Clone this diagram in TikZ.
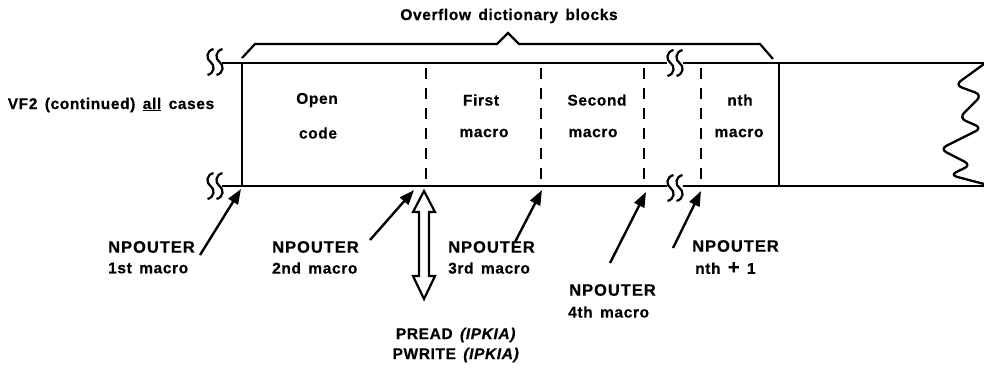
\documentclass[tikz,border=0pt]{standalone}
\usepackage{fontspec}
\setmainfont{Liberation Sans}[LetterSpace=4, WordSpace=1.5, BoldFeatures={FakeBold=0.5}, BoldItalicFeatures={FakeBold=0.5}]
\newfontfamily\npfont{Liberation Sans}[LetterSpace=6, WordSpace=1.5, BoldFeatures={FakeBold=0.5}]
\usetikzlibrary{arrows.meta}
\tikzset{
  boxline/.style={line width=2.3pt},
  divline/.style={line width=2pt, dash pattern=on 11pt off 9pt},
  ptr/.style={line width=2.4pt, -{Triangle[length=15pt,width=11pt]}},
  lbl/.style={font=\fontsize{15.5}{17}\selectfont\bfseries, inner sep=0pt},
  nplbl/.style={font=\npfont\fontsize{16.5}{18}\selectfont\bfseries, inner sep=0pt, anchor=west},
  sub/.style={font=\fontsize{15.5}{17}\selectfont\bfseries, inner sep=0pt, anchor=west},
  brk/.pic={
    \foreach \dx in {-4.5,4.5}{
      \draw[line width=2.2pt] ([xshift=\dx pt]3,-13) .. controls ([xshift=\dx pt]-4.5,-11) and ([xshift=\dx pt]-4.5,-3) .. ([xshift=\dx pt]0,0)
        .. controls ([xshift=\dx pt]4.5,3) and ([xshift=\dx pt]4.5,11) .. ([xshift=\dx pt]-3,13);
    }
  }
}
\begin{document}
\begin{tikzpicture}[x=1pt,y=-1pt]
\useasboundingbox (0,0) rectangle (984,368);
\fill[white] (0,0) rectangle (984,368);

% title and brace
\node[lbl] (title) at (509,16) {Overflow dictionary blocks};
\draw[line width=2.2pt, line join=miter] (242,58) -- (255,44) -- (497,44) -- (508,33) -- (519,44) -- (760,44) -- (773,59);

% side label
\node[lbl] (vf2) at (111,105) {VF2 (continued) \underline{all} cases};

% main box lines
\draw[boxline] (222,63) -- (667,63);
\draw[boxline] (683,63) -- (984,63);
\draw[boxline] (222,186) -- (667,186);
\draw[boxline] (683,186) -- (984,186);
\draw[boxline] (242,63) -- (242,186);
\draw[boxline] (779,63) -- (779,186);
\foreach \xx in {426,541,644,701}{
  \draw[divline] (\xx,68) -- (\xx,183);
}
% break marks
\pic at (215,62) {brk};
\pic at (215,186) {brk};
\pic at (675,63) {brk};
\pic at (675,188) {brk};

% right zigzag
\draw[line width=2.3pt, rounded corners=7pt] (984,64) -- (955,85) -- (982,95) -- (959,118) -- (982,128) -- (940,149) -- (971,165) -- (950,175) -- (984,184);

% compartment labels
\node[lbl] (open) at (317,100) {Open};
\node[lbl] (code) at (318,133) {code};
\node[lbl] (first) at (481,100) {First};
\node[lbl] (m1) at (484,133) {macro};
\node[lbl] (second) at (597,100) {Second};
\node[lbl] (m2) at (593,133) {macro};
\node[lbl] (nth) at (740,100) {nth};
\node[lbl] (mn) at (739,133) {macro};

% pointer labels
\node[nplbl] (np1) at (108,247) {NPOUTER};
\node[sub] (s1) at (108,268) {1st macro};
\node[nplbl] (np2) at (272,247) {NPOUTER};
\node[sub] (s2) at (272,268) {2nd macro};
\node[nplbl] (np3) at (448,247) {NPOUTER};
\node[sub] (s3) at (448,268) {3rd macro};
\node[nplbl] (np4) at (569,290) {NPOUTER};
\node[sub] (s4) at (568,312) {4th macro};
\node[nplbl] (np5) at (692,246) {NPOUTER};
\node[sub] (s5) at (695,268) {nth {\fontsize{20}{20}\selectfont +} 1};

% pointer arrows
\coordinate (a1) at (200,255); \coordinate (b1) at (241,189);
\coordinate (a2) at (370,240); \coordinate (b2) at (414,190);
\coordinate (a3) at (515,242); \coordinate (b3) at (542,190);
\coordinate (a4) at (610,263); \coordinate (b4) at (646,192);
\coordinate (a5) at (673,248); \coordinate (b5) at (701,191);
\foreach \i in {1,...,5}{ \draw[ptr] (a\i) -- (b\i); }

% double arrow
\coordinate (dtop) at (424,191);
\draw[line width=2.2pt, line join=miter] (dtop) -- (435,212) -- (429,212) -- (429,276) -- (435,276) -- (424,299)
  -- (413,276) -- (419,276) -- (419,212) -- (413,212) -- cycle;

% read/write label
\node[lbl, align=center] (rw) at (456,345) {PREAD \textit{(IPKIA)}\\[3pt]PWRITE \textit{(IPKIA)}};
\end{tikzpicture}
\end{document}
